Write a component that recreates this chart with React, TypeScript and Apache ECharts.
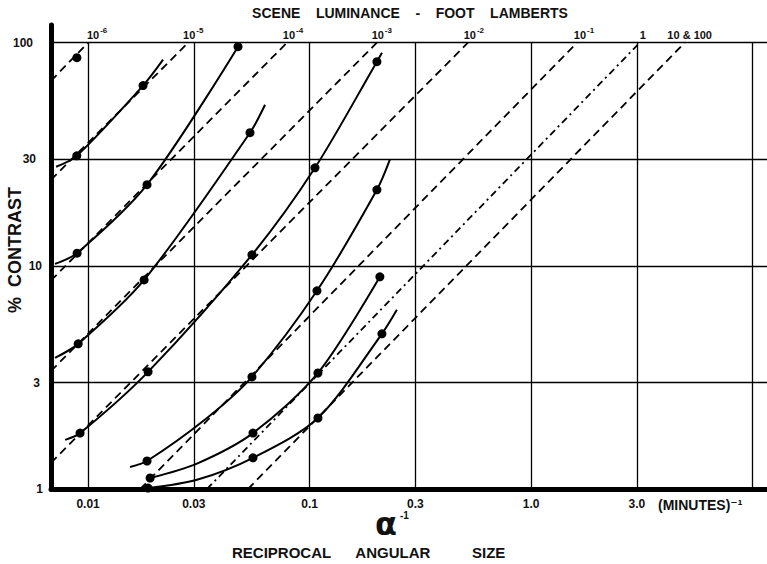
import React, { useEffect, useRef } from "react";
import * as echarts from "echarts";

// ---- axis ranges ----
const X_MIN = 0.0068;
const X_MAX = 11.6;
const Y_MIN = 1;
const Y_MAX = 120;
const Y_TOP_GRID = 100;

// ---- grid lines and tick labels ----
const xGridValues = [0.01, 0.03, 0.1, 0.3, 1, 3, 10];
const xTickLabels = ["0.01", "0.03", "0.1", "0.3", "1.0", "3.0", ""];
const yGridValues = [1, 3, 10, 30, 100];
const yTickLabels = ["1", "3", "10", "30", "100"];
const yLabelGaps = [8, 11, 9, 15, 18];

// ---- scene luminance (foot lamberts): theoretical dashed lines ----
const luminanceBase = ["10", "10", "10", "10", "10", "10", "1", "10 & 100"];
const luminanceExp = ["-6", "-5", "-4", "-3", "-2", "-1", "", ""];
const luminanceLabelShift = [9, 5, 6, 5, 6, 7, 3, 5];
const theoryLow = [
  [0.0068, 67.5],
  [0.0068, 24.3],
  [0.0068, 8.6],
  [0.0068, 3.38],
  [0.0068, 1.31],
  [0.0172, 1],
  [0.0344, 1],
  [0.0527, 1],
];
const theoryTop = [
  [0.01, 100],
  [0.0283, 100],
  [0.079, 100],
  [0.201, 100],
  [0.518, 100],
  [1.61, 100],
  [3.09, 100],
  [4.93, 100],
];

// ---- measured curves: [reciprocal angular size, % contrast, 1 = measured dot] ----
const curveE6 = [[0.0089, 85.7, 1]];
const curveE5 = [
  [0.00717, 27.8, 0],
  [0.00889, 31.1, 1],
  [0.0177, 64.2, 1],
  [0.0218, 83.9, 0],
];
const curveE4 = [
  [0.00709, 10.2, 0],
  [0.00892, 11.4, 1],
  [0.01845, 23.1, 1],
  [0.0475, 95.9, 1],
];
const curveE3 = [
  [0.00709, 3.87, 0],
  [0.00902, 4.47, 1],
  [0.0179, 8.65, 1],
  [0.0538, 39.5, 1],
  [0.0629, 52.7, 0],
];
const curveE2 = [
  [0.00788, 1.66, 0],
  [0.0092, 1.78, 1],
  [0.01865, 3.35, 1],
  [0.0549, 11.2, 1],
  [0.1057, 27.5, 1],
  [0.2012, 82.2, 1],
  [0.212, 90.2, 0],
];
const curveE1 = [
  [0.01547, 1.255, 0],
  [0.01845, 1.335, 1],
  [0.0344, 2.08, 0],
  [0.0549, 3.18, 1],
  [0.1079, 7.73, 1],
  [0.2012, 21.9, 1],
  [0.2302, 29.9, 0],
];
const curveOne = [
  [0.01905, 1.12, 1],
  [0.031, 1.3, 0],
  [0.0555, 1.78, 1],
  [0.109, 3.31, 1],
  [0.2075, 8.93, 1],
];
const curveHundred = [
  [0.01865, 1.01, 1],
  [0.031, 1.1, 0],
  [0.0555, 1.38, 1],
  [0.109, 2.08, 1],
  [0.212, 4.96, 1],
  [0.2476, 6.35, 0],
];
const measuredCurves = [curveE6, curveE5, curveE4, curveE3, curveE2, curveE1, curveOne, curveHundred];

const FONT = '"Liberation Sans", "DejaVu Sans", Arial, sans-serif';
const INK = "#111";

export default function App() {
  const ref = useRef<HTMLDivElement>(null);

  useEffect(() => {
    if (!ref.current) return;
    const chart = echarts.init(ref.current, undefined, { renderer: "svg" });

    const gridSeries: any = {
      type: "line",
      silent: true,
      data: [[0.01, 1]],
      symbol: "none",
      lineStyle: { width: 0, opacity: 0 },
      z: 1,
      markLine: {
        silent: true,
        animation: false,
        symbol: ["none", "none"],
        lineStyle: { color: "#000", width: 1.3, type: "solid" },
        emphasis: { disabled: true },
        label: {
          color: INK,
          fontFamily: FONT,
          fontWeight: "bold",
          fontSize: 12,
        },
        data: [
          ...xGridValues.map((v, i) => [
            {
              coord: [v, Y_MIN],
              label: {
                show: xTickLabels[i] !== "",
                position: "start",
                distance: 9,
                formatter: xTickLabels[i] || " ",
              },
            },
            { coord: [v, Y_TOP_GRID] },
          ]),
          ...yGridValues.map((v, i) => [
            {
              coord: [X_MIN, v],
              label: {
                show: true,
                position: "start",
                distance: yLabelGaps[i],
                formatter: yTickLabels[i],
              },
            },
            { coord: [X_MAX, v] },
          ]),
        ],
      },
    };

    const theorySeries = luminanceBase.map((base, i) => ({
      type: "line",
      silent: true,
      symbol: "circle",
      symbolSize: 1,
      itemStyle: { color: "rgba(0,0,0,0)" },
      lineStyle: { color: "#000", width: 1.8, type: i === 6 ? [7, 4, 2, 4] : [8, 5] },
      z: 3,
      data: [
        { value: theoryLow[i] },
        {
          value: theoryTop[i],
          label: {
            show: true,
            position: "top",
            distance: 2,
            offset: [luminanceLabelShift[i], 0],
            formatter: luminanceExp[i] ? `{b|${base}}{s|${luminanceExp[i]}}` : `{b|${base}}`,
            color: INK,
            fontFamily: FONT,
            fontWeight: "bold",
            rich: {
              b: {
                fontFamily: FONT,
                fontWeight: "bold",
                fontSize: 11,
                color: INK,
                lineHeight: 14,
                verticalAlign: "bottom",
              },
              s: {
                fontFamily: FONT,
                fontWeight: "bold",
                fontSize: 8,
                color: INK,
                lineHeight: 14,
                verticalAlign: "top",
                padding: [0, 0, 6, 1],
              },
            },
          },
        },
      ],
    }));

    const curveSeries = measuredCurves.map((c) => ({
      type: "line",
      silent: true,
      smooth: 0.3,
      symbolSize: 9,
      itemStyle: { color: "#000" },
      lineStyle: { color: "#000", width: 2 },
      z: 4,
      data: c.map((p) => ({ value: [p[0], p[1]], symbol: p[2] ? "circle" : "none" })),
    }));

    chart.setOption({
      animation: false,
      backgroundColor: "#fff",
      grid: { left: 51, right: 0, top: 25, bottom: 75, outerBoundsMode: "none" },
      xAxis: {
        type: "log",
        logBase: 10,
        min: X_MIN,
        max: X_MAX,
        axisLine: { show: true, onZero: false, lineStyle: { color: "#000", width: 5 } },
        axisTick: { show: false },
        axisLabel: { show: false },
        splitLine: { show: false },
      },
      yAxis: {
        type: "log",
        logBase: 10,
        min: Y_MIN,
        max: Y_MAX,
        axisLine: { show: true, onZero: false, lineStyle: { color: "#000", width: 5 } },
        axisTick: { show: false },
        axisLabel: { show: false },
        splitLine: { show: false },
      },
      graphic: [
        {
          type: "text",
          x: 410,
          y: 13,
          style: {
            text: "SCENE    LUMINANCE    -    FOOT    LAMBERTS",
            font: `bold 14px ${FONT}`,
            fill: INK,
            align: "center",
            verticalAlign: "middle",
          },
        },
        {
          type: "text",
          x: 15,
          y: 250,
          rotation: Math.PI / 2,
          style: {
            text: "%  CONTRAST",
            font: `bold 18px ${FONT}`,
            fill: INK,
            align: "center",
            verticalAlign: "middle",
          },
        },
        {
          type: "text",
          x: 386,
          y: 524,
          style: {
            text: "α",
            font: `bold 32px "DejaVu Sans", sans-serif`,
            fill: INK,
            align: "center",
            verticalAlign: "middle",
          },
        },
        {
          type: "text",
          x: 400,
          y: 515,
          style: {
            text: "-1",
            font: `bold 10px ${FONT}`,
            fill: INK,
            align: "left",
            verticalAlign: "middle",
          },
        },
        {
          type: "text",
          x: 232,
          y: 552,
          style: {
            text: "RECIPROCAL      ANGULAR          SIZE",
            font: `bold 15px ${FONT}`,
            fill: INK,
            align: "left",
            verticalAlign: "middle",
          },
        },
        {
          type: "text",
          x: 658,
          y: 505,
          style: {
            text: "(MINUTES)⁻¹",
            font: `bold 14px ${FONT}`,
            fill: INK,
            align: "left",
            verticalAlign: "middle",
          },
        },
      ],
      series: [gridSeries, ...theorySeries, ...curveSeries],
    });

    return () => chart.dispose();
  }, []);

  return (
    <div
      ref={ref}
      style={{ position: "absolute", left: 0, top: 0, width: 767, height: 564, background: "#fff" }}
    />
  );
}
